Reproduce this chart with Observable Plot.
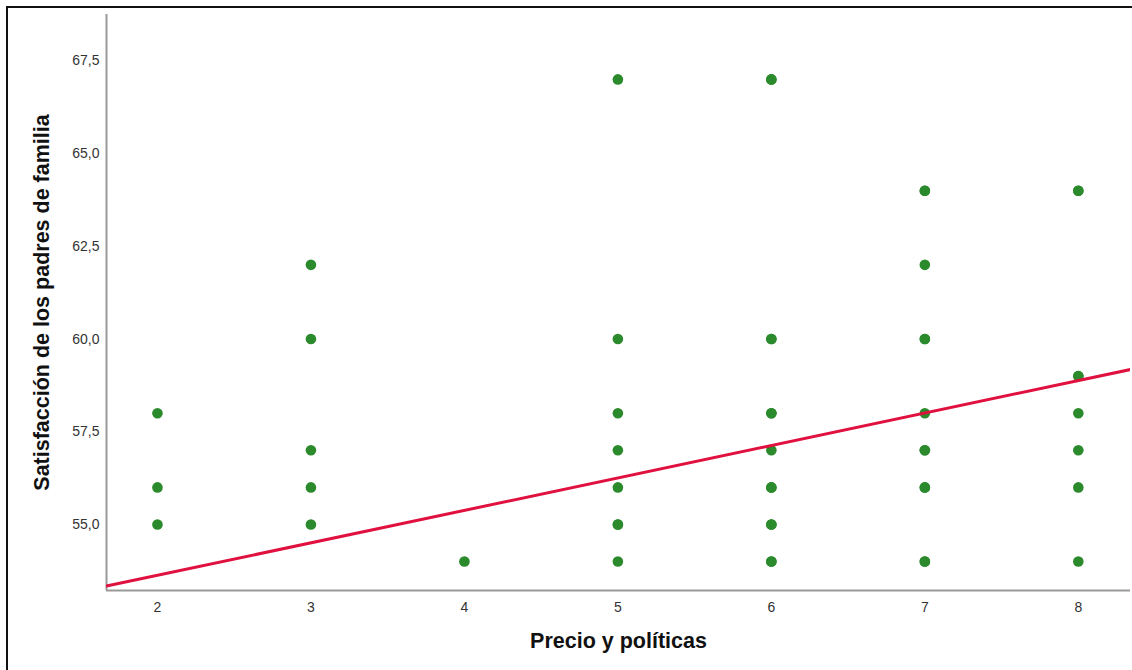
<!DOCTYPE html>
<html>
<head>
<meta charset="utf-8">
<script src="https://cdn.jsdelivr.net/npm/d3@7"></script>
<script src="https://cdn.jsdelivr.net/npm/@observablehq/plot@0.6"></script>
<style>
  html, body { margin: 0; padding: 0; background: #fff; }
  #wrap { position: relative; width: 1132px; height: 670px; overflow: hidden; }
  #frame { position: absolute; left: 6px; top: 6px; right: -10px; bottom: -10px;
           border-top: 2px solid #111; border-left: 2px solid #111; pointer-events: none; }
  #chart { position: absolute; left: 0; top: 0; }
</style>
</head>
<body>
<div id="wrap"><div id="chart"></div><div id="frame"></div></div>
<script>
// Precio y políticas (x) and Satisfacción de los padres de familia (y)
const precio = [
  2, 2, 2,
  3, 3, 3, 3, 3,
  4,
  5, 5, 5, 5, 5, 5, 5, 5,
  6, 6, 6, 6, 6, 6, 6, 6, 6, 6, 6, 6, 6,
  7, 7, 7, 7, 7, 7, 7, 7, 7, 7, 7, 7,
  8, 8, 8, 8, 8, 8, 8, 8
];
const satisfaccion = [
  58, 56, 55,
  62, 60, 57, 56, 55,
  54,
  67, 60, 58, 57, 56, 55, 55, 54,
  67, 67, 60, 60, 58, 58, 57, 56, 56, 55, 55, 54, 54,
  64, 64, 62, 60, 60, 58, 57, 57, 56, 56, 54, 54,
  64, 64, 59, 59, 58, 57, 56, 54
];
// Fitted line: y = intercept + slope * x
const regIntercept = 51.88;
const regSlope = 0.875;
const xTicks = [2, 3, 4, 5, 6, 7, 8];
const yTicks = [55, 57.5, 60, 62.5, 65, 67.5];
const xDomain = [1.668, 8.34];
const yDomain = [53.22, 68.75];

const points = precio.map((x, i) => ({x, y: satisfaccion[i]}));
const fit = xDomain.map(x => ({x, y: regIntercept + regSlope * x}));
const fmtY = v => v.toFixed(1).replace(".", ",");
const fmtX = v => String(v);

const chart = Plot.plot({
  width: 1132,
  height: 670,
  marginLeft: 106,
  marginTop: 14,
  marginBottom: 80,
  marginRight: 2,
  style: {fontFamily: "'Liberation Sans', Arial, sans-serif", background: "transparent"},
  x: {domain: xDomain, ticks: xTicks},
  y: {domain: yDomain, ticks: yTicks},
  marks: [
    Plot.axisX(xTicks, {tickSize: 0, tickPadding: 12, fontSize: 14, fill: "#333", label: null, tickFormat: fmtX}),
    Plot.axisY(yTicks, {tickSize: 0, tickPadding: 7, fontSize: 14, fill: "#333", label: null, tickFormat: fmtY}),
    Plot.ruleX([xDomain[0]], {stroke: "#9a9a9a", strokeWidth: 2}),
    Plot.ruleY([yDomain[0]], {stroke: "#9a9a9a", strokeWidth: 2}),
    Plot.dot(points, {x: "x", y: "y", r: 5.3, fill: "#2b8a2b", stroke: "none"}),
    Plot.line(fit, {x: "x", y: "y", stroke: "#e0103f", strokeWidth: 3, clip: true}),
    Plot.text(["Precio y políticas"], {frameAnchor: "bottom", dy: 57, fontSize: 21.5, fontWeight: "bold", fill: "#111", textAnchor: "middle"}),
    Plot.text(["Satisfacción de los padres de familia"], {frameAnchor: "left", dx: -64, rotate: -90, fontSize: 21.5, fontWeight: "bold", fill: "#111", textAnchor: "middle"})
  ]
});
document.getElementById("chart").appendChild(chart);
</script>
</body>
</html>
